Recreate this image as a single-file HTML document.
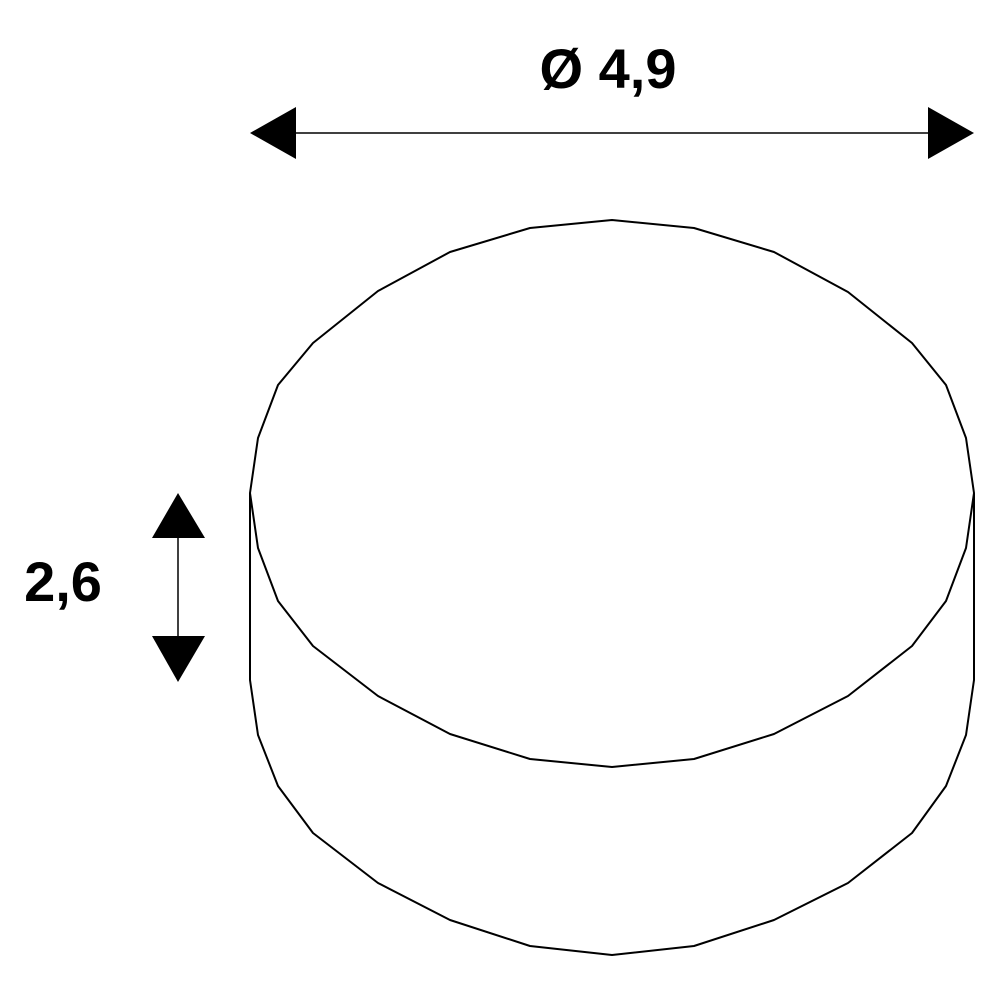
<!DOCTYPE html>
<html><head><meta charset="utf-8"><style>html,body{margin:0;padding:0;background:#fff;}</style></head>
<body>
<svg width="1000" height="1000" viewBox="0 0 1000 1000" xmlns="http://www.w3.org/2000/svg">
<g fill="none" stroke="#000" stroke-width="2" stroke-linejoin="round">
<polygon points="250,493 258,438 278,385 313,343 378,291 450,252 530,228 612,220 694,228 774,252 848,292 912,343 946,385 966,438 974,493 966,548 946,601 912,646 848,696 774,734 694,759 612,767 530,759 450,734 378,696 313,646 278,601 258,548"/>
<polyline points="250,493 250,680 258,735 278,786 313,833 378,883 450,920 530,946 612,955 694,946 774,920 848,883 912,833 946,786 966,735 974,680 974,493"/>
<line x1="280" y1="133" x2="940" y2="133" stroke-width="1.5"/>
<line x1="178" y1="520" x2="178" y2="660" stroke-width="1.5"/>
</g>
<g fill="#000">
<polygon points="250,133 296,107 296,159"/>
<polygon points="974,133 928,107 928,159"/>
<polygon points="178,493 152,538 205,538"/>
<polygon points="178,682 152,636 205,636"/>
</g>
<text x="608" y="88" text-anchor="middle" font-family="Liberation Sans, sans-serif" font-weight="bold" font-size="56">Ø 4,9</text>
<text x="63" y="601" text-anchor="middle" font-family="Liberation Sans, sans-serif" font-weight="bold" font-size="56">2,6</text>
</svg>
</body></html>
